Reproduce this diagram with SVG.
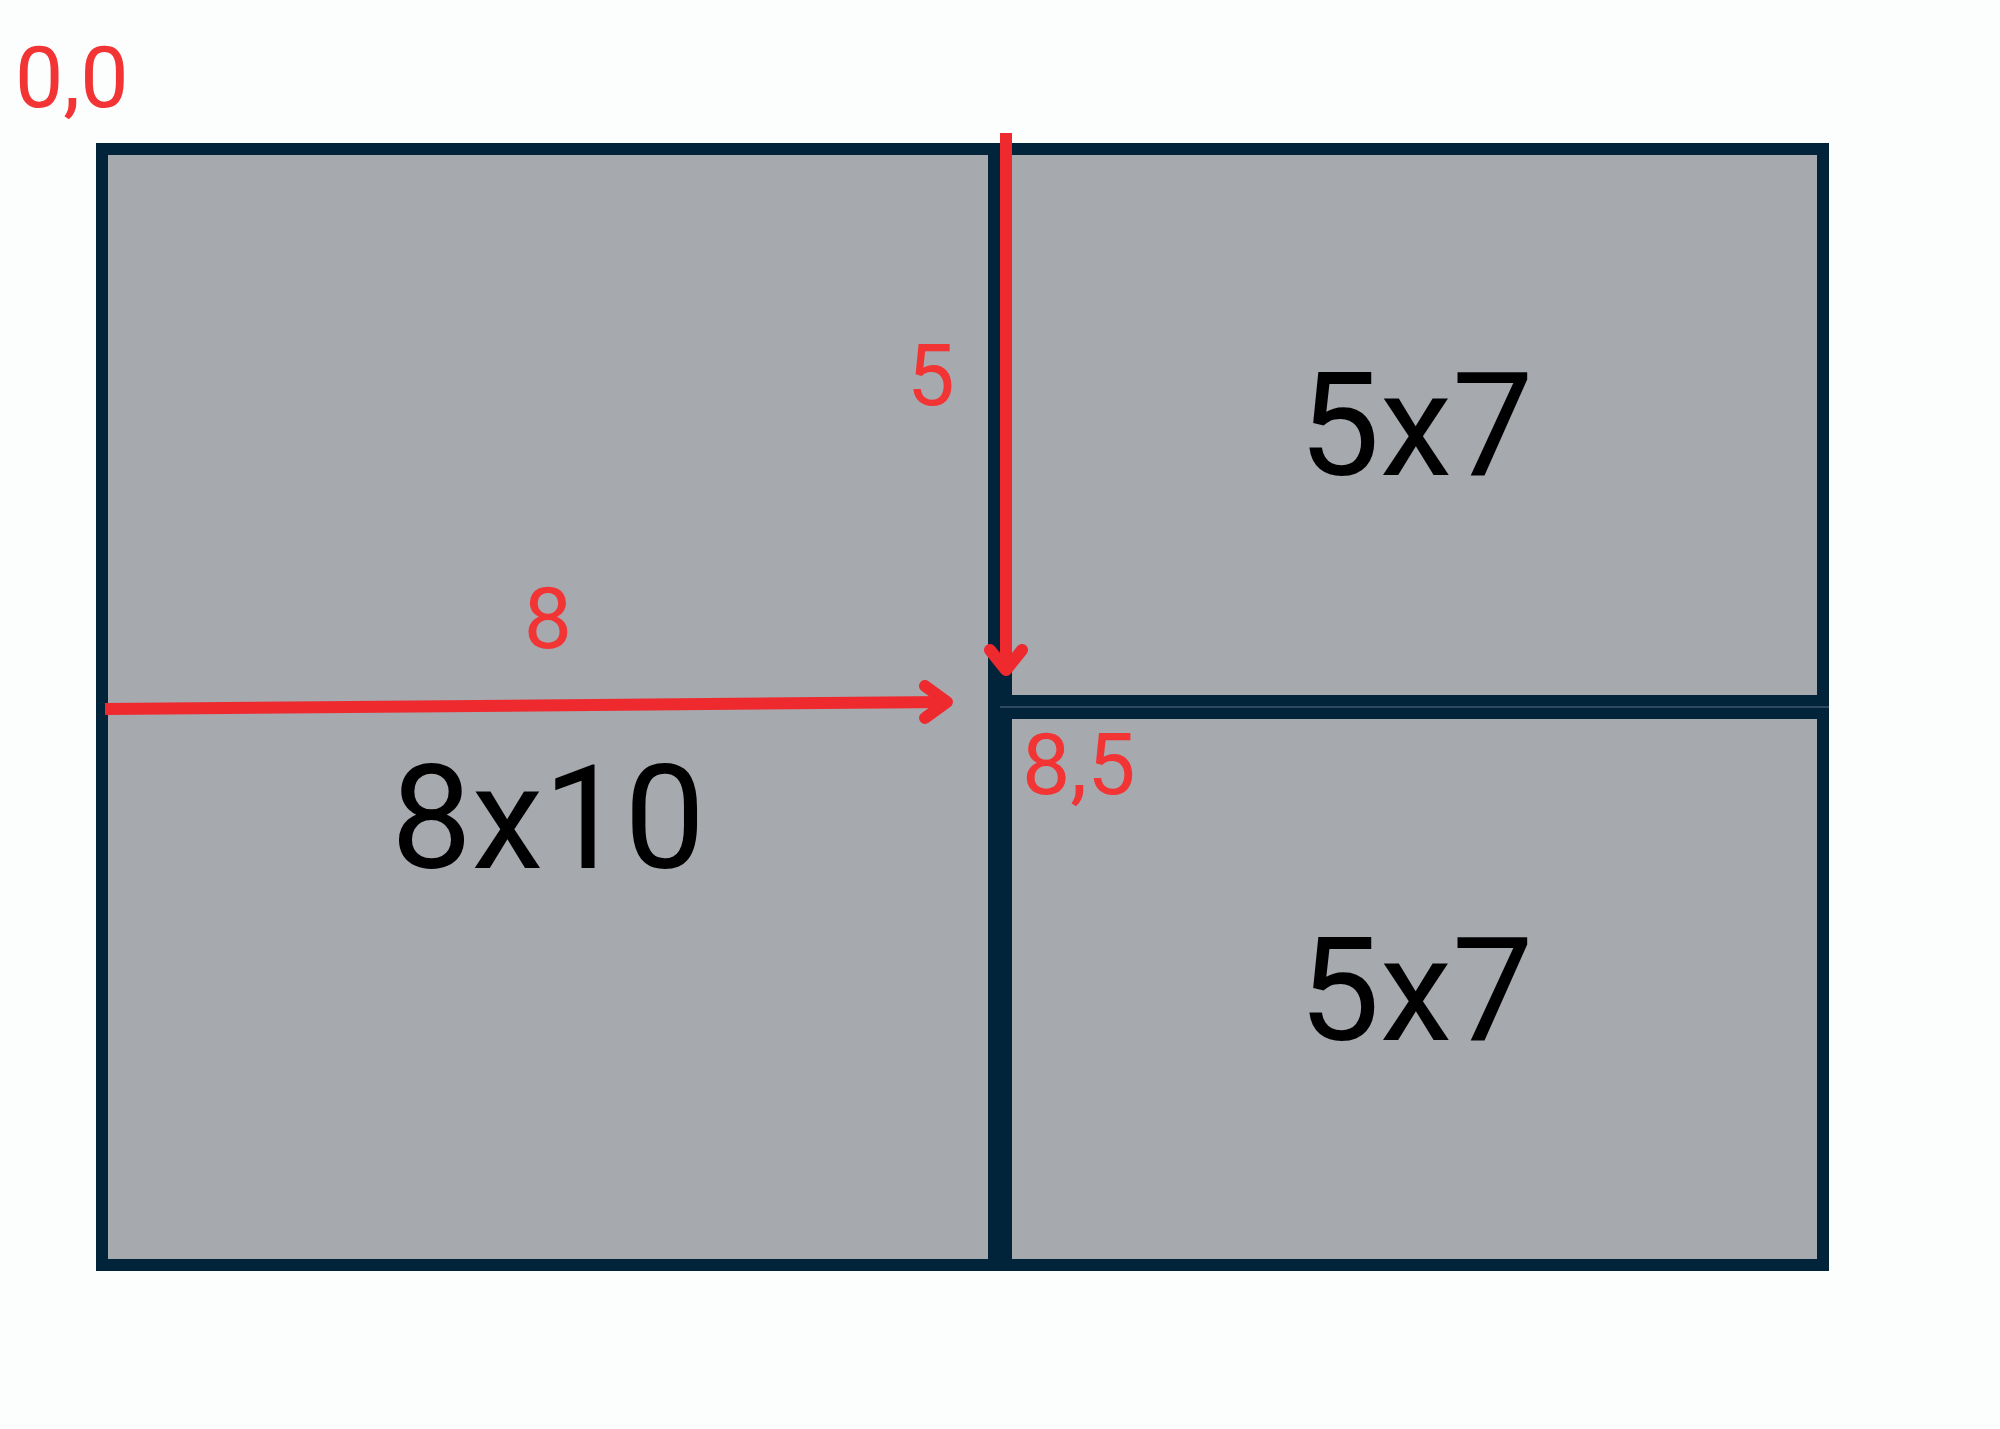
<svg xmlns="http://www.w3.org/2000/svg" width="2000" height="1429" viewBox="0 0 2000 1429">
<style>
.box{fill:#a6a9ae;stroke:#02243b;stroke-width:12}
.lbl{font-family:Roboto,"Liberation Sans",sans-serif;fill:#000;text-anchor:middle}
.red{font-family:Roboto,"Liberation Sans",sans-serif;fill:#f23434}
.ln{stroke:#ee2a2f;stroke-width:12;fill:none}
.hd{stroke:#ee2a2f;stroke-width:12;fill:none;stroke-linecap:round;stroke-linejoin:round}
</style>
<rect width="2000" height="1429" fill="#fcfdfd"/>
<g id="node-8x10">
<rect class="box" x="102" y="149" width="892" height="1116"/>
<text class="lbl" x="548" y="868" font-size="144">8x10</text>
</g>
<g id="node-5x7-top">
<rect class="box" x="1006" y="149" width="817" height="552"/>
<text class="lbl" x="1416" y="475" font-size="145">5x7</text>
</g>
<g id="node-5x7-bottom">
<rect class="box" x="1006" y="713" width="817" height="552"/>
<text class="lbl" x="1416" y="1040" font-size="145">5x7</text>
</g>
<line x1="1000" y1="707" x2="1829" y2="707" stroke="#5d7184" stroke-width="1.2"/>
<g id="connectors">
<line class="ln" x1="105" y1="709" x2="946" y2="702"/>
<polyline class="hd" points="925,686 947,702 925,718"/>
<line class="ln" x1="1006" y1="133" x2="1006" y2="668"/>
<polyline class="hd" points="990,650 1006,670 1022,650"/>
</g>
<g id="labels">
<text class="red" x="15" y="107" font-size="86">0,0</text>
<text class="red" x="931" y="405" font-size="85" text-anchor="middle">5</text>
<text class="red" x="548" y="648" font-size="86" text-anchor="middle">8</text>
<text class="red" x="1022" y="794" font-size="86">8,5</text>
</g>
</svg>
